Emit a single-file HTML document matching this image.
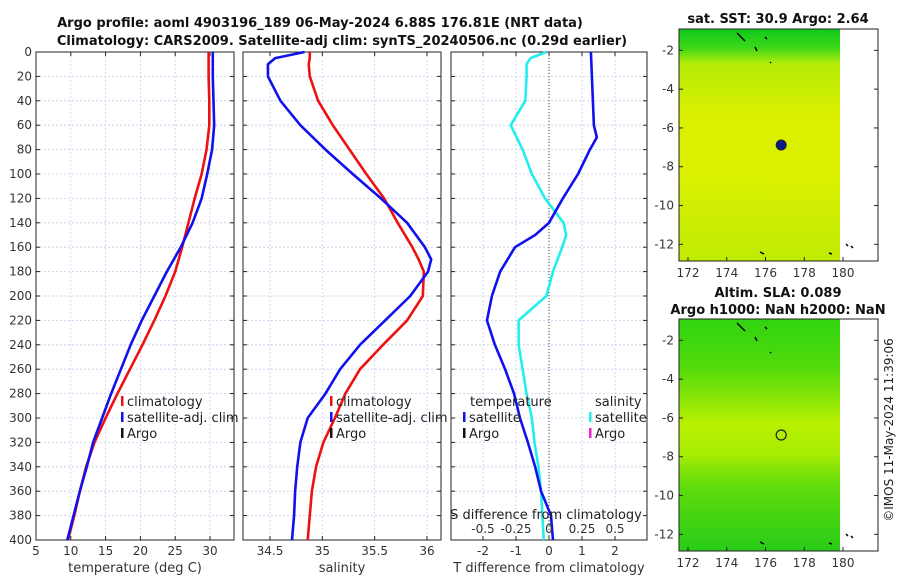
<!DOCTYPE html>
<html><head><meta charset="utf-8">
<style>
html,body{margin:0;padding:0;background:#fff;}
svg{display:block;font-family:"DejaVu Sans","Liberation Sans",sans-serif;}
</style></head>
<body>
<svg id="chart" width="900" height="580" viewBox="0 0 900 580" xmlns="http://www.w3.org/2000/svg">
<defs>
<linearGradient id="sstGrad" x1="0" y1="0" x2="0" y2="1">
<stop offset="0" stop-color="#10c81c"/><stop offset="0.08" stop-color="#3cd818"/><stop offset="0.15" stop-color="#b4ec08"/><stop offset="0.35" stop-color="#d8f000"/><stop offset="0.6" stop-color="#dcf000"/><stop offset="1" stop-color="#c0ec04"/>
</linearGradient>
<linearGradient id="slaGrad" x1="0" y1="0" x2="0" y2="1">
<stop offset="0" stop-color="#30d410"/><stop offset="0.2" stop-color="#50da0c"/><stop offset="0.32" stop-color="#80e408"/><stop offset="0.45" stop-color="#b8f000"/><stop offset="0.58" stop-color="#a8ec04"/><stop offset="0.72" stop-color="#60dc0c"/><stop offset="1" stop-color="#28cc18"/>
</linearGradient>
</defs>
<g id="titles" font-weight="bold" font-size="13" fill="#111" text-anchor="middle">
<text x="320" y="27">Argo profile: aoml 4903196_189 06-May-2024 6.88S 176.81E (NRT data)</text>
<text x="342" y="45">Climatology: CARS2009. Satellite-adj clim: synTS_20240506.nc (0.29d earlier)</text>
</g>
<g id="plots"></g>
<g id="maps"></g>
<text transform="translate(893,430) rotate(-90)" text-anchor="middle" font-size="12" fill="#222">©IMOS 11-May-2024 11:39:06</text>
</svg>
<script>
const depths = [0,20,40,60,80,100,120,140,160,180,200,220,240,260,280,300,320,340,360,380,400];
const tempClim = [29.8,29.8,29.9,29.9,29.5,28.8,27.8,26.9,26.0,25.0,23.6,22.0,20.3,18.5,16.7,15.0,13.4,12.2,11.3,10.5,9.6];
const tempSat  = [30.4,30.4,30.5,30.6,30.3,29.6,28.8,27.5,25.8,23.8,22.0,20.2,18.6,17.2,15.8,14.5,13.2,12.3,11.3,10.4,9.5];
const salDepths = [0,5,10,20,40,60,80,100,120,140,160,170,180,200,220,240,260,280,300,320,340,360,380,400];
const salClim = [34.88,34.88,34.87,34.88,34.96,35.10,35.26,35.42,35.59,35.72,35.86,35.92,35.97,35.96,35.81,35.58,35.36,35.22,35.12,35.01,34.94,34.90,34.88,34.86];
const salSat  = [34.83,34.55,34.48,34.48,34.60,34.79,35.03,35.29,35.56,35.81,35.98,36.04,36.01,35.84,35.60,35.36,35.17,35.03,34.86,34.79,34.76,34.74,34.73,34.71];
const diffDepths = [0,20,40,60,70,80,100,120,140,150,160,180,200,220,240,260,280,300,320,340,360,370,380,400];
const tDiff = [1.27,1.30,1.33,1.36,1.45,1.24,0.88,0.42,0.00,-0.42,-1.03,-1.48,-1.73,-1.88,-1.64,-1.33,-1.06,-0.88,-0.64,-0.42,-0.24,-0.09,0.06,0.12];
const sDiffDepths = [0,5,10,20,40,60,80,100,120,140,150,160,180,200,220,240,260,280,300,320,340,360,380,400];
const sDiff = [-0.02,-0.14,-0.17,-0.17,-0.18,-0.29,-0.20,-0.13,-0.03,0.11,0.13,0.10,0.03,-0.02,-0.23,-0.23,-0.20,-0.17,-0.13,-0.11,-0.08,-0.06,-0.05,-0.04];
const depthTicks = [0,20,40,60,80,100,120,140,160,180,200,220,240,260,280,300,320,340,360,380,400];
const tempTicks = [5,10,15,20,25,30];
const salTicks = [34.5,35,35.5,36];
const tdTicks = [-2,-1,0,1,2];
const sdTickLabels = ["-0.5","-0.25","0","0.25","0.5"];
const sdTicks = [-0.5,-0.25,0,0.25,0.5];
const lonTicks = [172,174,176,178,180];
const latTicks = [-2,-4,-6,-8,-10,-12];

const NS="http://www.w3.org/2000/svg";
function el(tag,attrs,parent){const e=document.createElementNS(NS,tag);for(const k in attrs)e.setAttribute(k,attrs[k]);parent.appendChild(e);return e;}
const plots=document.getElementById('plots');
const Y0=52,Y1=540;
const yD=d=>Y0+(d/400)*(Y1-Y0);
function lin(d0,d1,r0,r1){return v=>r0+(v-d0)/(d1-d0)*(r1-r0);}

function panel(name,x0,x1,xs,xticks,xlabels,xtitle,showY){
  const g=el('g',{},plots);
  
  
  depthTicks.forEach(d=>{const l=el('line',{x1:x0,x2:x1,y1:yD(d),y2:yD(d),stroke:'#c4cdeb','stroke-width':0.8,'stroke-dasharray':'2,2'},g);
    });
  xticks.forEach(v=>{const l=el('line',{x1:xs(v),x2:xs(v),y1:Y0,y2:Y1,stroke:'#c4cdeb','stroke-width':0.8,'stroke-dasharray':'2,2'},g);
    });
  const r=el('rect',{x:x0,y:Y0,width:x1-x0,height:Y1-Y0,fill:'none',stroke:'#222','stroke-width':1},g);
  
  xticks.forEach((v,i)=>{
    el('line',{x1:xs(v),x2:xs(v),y1:Y1,y2:Y1-4,stroke:'#222'},g);
    el('line',{x1:xs(v),x2:xs(v),y1:Y0,y2:Y0+4,stroke:'#222'},g);
    const t=el('text',{x:xs(v),y:Y1+15,'font-size':12,fill:'#333','text-anchor':'middle'},g);t.textContent=xlabels[i];
    
  });
  depthTicks.forEach(d=>{
    el('line',{x1:x0,x2:x0+4,y1:yD(d),y2:yD(d),stroke:'#222'},g);
    el('line',{x1:x1,x2:x1-4,y1:yD(d),y2:yD(d),stroke:'#222'},g);
    if(showY){const t=el('text',{x:x0-4,y:yD(d)+4,'font-size':12,fill:'#333','text-anchor':'end'},g);t.textContent=d;
      }
  });
  const tt=el('text',{x:(x0+x1)/2,y:572,'font-size':13,fill:'#333','text-anchor':'middle'},g);tt.textContent=xtitle;
  
  return g;
}
function series(g,xs,vals,ds,color,name){
  const p=el('polyline',{points:vals.map((v,i)=>xs(v)+','+yD(ds[i])).join(' '),fill:'none',stroke:color,'stroke-width':2.6,'stroke-linejoin':'round'},g);
  
}
function legendItem(g,x,y,color,label,name){
  el('rect',{x:x,y:y-10,width:2.5,height:10,fill:color},g);
  const t=el('text',{x:x+6,y:y,'font-size':13,fill:'#222'},g);t.textContent=label;
  
}
const xT=lin(5,30,36,210);
const g1=panel('temperature-panel',36,234,xT,tempTicks,tempTicks.map(String),'temperature (deg C)',true);
series(g1,xT,tempClim,depths,'#ee1111','temp-climatology-line');
series(g1,xT,tempSat,depths,'#1111ee','temp-satellite-line');
legendItem(g1,121,406,'#ee1111','climatology','legend-climatology');
legendItem(g1,121,422,'#1111ee','satellite-adj. clim','legend-satellite-adj');
legendItem(g1,121,438,'#111','Argo','legend-argo');
const xS=lin(34.5,36,270,427);
const g2=panel('salinity-panel',243,441,xS,salTicks,['34.5','35','35.5','36'],'salinity',false);
series(g2,xS,salClim,salDepths,'#ee1111','sal-climatology-line');
series(g2,xS,salSat,salDepths,'#1111ee','sal-satellite-line');
legendItem(g2,330,406,'#ee1111','climatology','legend-climatology-2');
legendItem(g2,330,422,'#1111ee','satellite-adj. clim','legend-satellite-adj-2');
legendItem(g2,330,438,'#111','Argo','legend-argo-2');
const xTD=lin(-1,1,516,582);
const xSD=lin(-0.25,0.25,516,582);
const g3=panel('difference-panel',451,647,xTD,tdTicks,tdTicks.map(String),'T difference from climatology',false);
el('line',{x1:xTD(0),x2:xTD(0),y1:Y0,y2:Y1,stroke:'#444','stroke-width':1,'stroke-dasharray':'1,2'},g3);
series(g3,xSD,sDiff,sDiffDepths,'#22eeee','s-diff-satellite-line');
series(g3,xTD,tDiff,diffDepths,'#1111ee','t-diff-satellite-line');
{const t=el('text',{x:470,y:406,'font-size':13,fill:'#222'},g3);t.textContent='temperature';}
{const t=el('text',{x:595,y:406,'font-size':13,fill:'#222'},g3);t.textContent='salinity';}
legendItem(g3,463,422,'#1111ee','satellite','legend-t-satellite');
legendItem(g3,463,438,'#111','Argo','legend-t-argo');
legendItem(g3,589,422,'#22eeee','satellite','legend-s-satellite');
legendItem(g3,589,438,'#ee22cc','Argo','legend-s-argo');
{const t=el('text',{x:546,y:519,'font-size':13,fill:'#222','text-anchor':'middle'},g3);t.textContent='S difference from climatology';}
sdTicks.forEach((v,i)=>{const t=el('text',{x:xSD(v),y:533,'font-size':12,fill:'#333','text-anchor':'middle'},g3);t.textContent=sdTickLabels[i];
  });

const maps=document.getElementById('maps');
const xL=lin(172,180,688,843);
function map(name,y0,grad,title1,title2,latTop){
  const g=el('g',{},maps);
  
  const h=232;
  const ly=v=>y0+( -v - latTop)*19.4;
  el('rect',{x:679,y:y0,width:840-679,height:h,fill:'url(#'+grad+')'},g);
  el('rect',{x:679,y:y0,width:878-679,height:h,fill:'none',stroke:'#222'},g);
  lonTicks.forEach(v=>{el('line',{x1:xL(v),x2:xL(v),y1:y0+h,y2:y0+h-4,stroke:'#222'},g);
    const t=el('text',{x:xL(v),y:y0+h+16,'font-size':12,fill:'#333','text-anchor':'middle'},g);t.textContent=v;
    });
  latTicks.forEach(v=>{el('line',{x1:679,x2:683,y1:ly(v),y2:ly(v),stroke:'#222'},g);el('line',{x1:878,x2:874,y1:ly(v),y2:ly(v),stroke:'#222'},g);
    const t=el('text',{x:674,y:ly(v)+4,'font-size':12,fill:'#333','text-anchor':'end'},g);t.textContent=v;
    });
  const t1=el('text',{x:778,y:y0-(title2?22:6),'font-size':13,'font-weight':'bold',fill:'#111','text-anchor':'middle'},g);t1.textContent=title1;
  
  if(title2){const t2=el('text',{x:778,y:y0-5,'font-size':13,'font-weight':'bold',fill:'#111','text-anchor':'middle'},g);t2.textContent=title2;
    }
  [[737,33,745,41],[765,37,767,39],[755,47,757,51],[770,62,771,63],[846,244,848,246],[851,246,853,248],[760,252,764,254],[829,253,832,254]].forEach(c=>{
    el('line',{x1:c[0],y1:c[1]+y0-29,x2:c[2],y2:c[3]+y0-29,stroke:'#000','stroke-width':1.5},g);});
  return {g,ly};
}
const m1=map('sst-map',29,'sstGrad','sat. SST: 30.9 Argo: 2.64',null,0.9);
const c1=el('circle',{cx:xL(176.81),cy:m1.ly(-6.88),r:5,fill:'#0a1a8a',stroke:'#222','stroke-width':1},m1.g);

const m2=map('sla-map',319,'slaGrad','Altim. SLA: 0.089','Argo h1000: NaN h2000: NaN',0.9);
const c2=el('circle',{cx:xL(176.81),cy:m2.ly(-6.88),r:5,fill:'none',stroke:'#222','stroke-width':1.2},m2.g);

</script>
</body></html>
